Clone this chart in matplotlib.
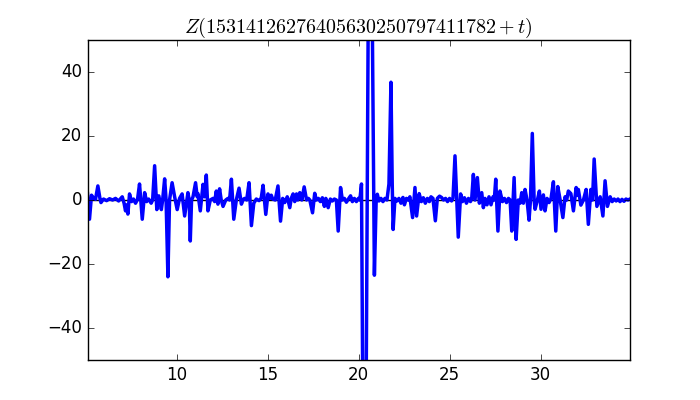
import matplotlib
matplotlib.use('Agg')
import matplotlib.pyplot as plt

# t values and Z(N + t)
t = [5.09, 5.20, 5.31, 5.42, 5.53, 5.66, 5.78, 5.83, 5.97, 6.14,
     6.30, 6.47, 6.63, 6.80, 7.00, 7.10, 7.18, 7.24, 7.31, 7.40,
     7.51, 7.62, 7.73, 7.84, 7.95, 8.10, 8.23, 8.34, 8.45, 8.59,
     8.67, 8.78, 8.90, 9.01, 9.15, 9.22, 9.33, 9.41, 9.51, 9.60,
     9.74, 9.88, 10.02, 10.15, 10.29, 10.43, 10.61, 10.68, 10.74, 10.81,
     10.89, 11.03, 11.12, 11.16, 11.29, 11.44, 11.53, 11.62, 11.71, 11.84,
     11.99, 12.08, 12.17, 12.26, 12.35, 12.44, 12.54, 12.69, 12.81, 12.90,
     13.00, 13.13, 13.27, 13.42, 13.55, 13.65, 13.73, 13.84, 13.97, 14.10,
     14.23, 14.37, 14.52, 14.64, 14.74, 14.89, 15.01, 15.11, 15.19, 15.27,
     15.41, 15.56, 15.70, 15.82, 15.93, 16.07, 16.21, 16.29, 16.39, 16.48,
     16.58, 16.65, 16.76, 16.87, 17.00, 17.13, 17.23, 17.31, 17.46, 17.58,
     17.67, 17.78, 17.89, 18.00, 18.11, 18.19, 18.32, 18.44, 18.55, 18.66,
     18.77, 18.87, 19.00, 19.10, 19.21, 19.32, 19.43, 19.55, 19.65, 19.76,
     19.87, 19.98, 20.06, 20.15, 20.32, 20.61, 20.86, 20.96, 21.02, 21.11,
     21.22, 21.33, 21.44, 21.55, 21.66, 21.77, 21.84, 21.89, 21.99, 22.10,
     22.21, 22.32, 22.43, 22.51, 22.62, 22.73, 22.81, 22.96, 23.09, 23.18,
     23.32, 23.44, 23.55, 23.66, 23.77, 23.88, 23.97, 24.08, 24.21, 24.32,
     24.44, 24.55, 24.66, 24.77, 24.88, 24.99, 25.10, 25.18, 25.29, 25.39,
     25.47, 25.60, 25.70, 25.81, 25.92, 26.03, 26.14, 26.21, 26.30, 26.39,
     26.52, 26.63, 26.76, 26.85, 26.94, 27.05, 27.16, 27.27, 27.38, 27.45,
     27.53, 27.65, 27.76, 27.90, 28.01, 28.12, 28.23, 28.32, 28.41, 28.54,
     28.65, 28.77, 28.87, 28.96, 29.05, 29.14, 29.25, 29.36, 29.44, 29.54,
     29.64, 29.69, 29.82, 29.93, 30.02, 30.15, 30.24, 30.35, 30.46, 30.57,
     30.70, 30.83, 30.94, 31.07, 31.22, 31.34, 31.43, 31.52, 31.66, 31.80,
     31.95, 32.01, 32.07, 32.21, 32.35, 32.50, 32.62, 32.76, 32.85, 32.94,
     33.09, 33.27, 33.42, 33.54, 33.67, 33.82, 33.93, 34.04, 34.15, 34.25,
     34.36, 34.47, 34.58, 34.69, 34.80, 34.91]

z = [2.0, -6.0, 1.5, 0.5, 0.2, 4.4, 0.3, -0.8, 0.3, -0.2,
     0.4, 0.0, 0.5, -0.3, 1.0, -1.0, -3.4, -1.5, -4.4, 1.9,
     -0.5, 0.3, -1.0, 0.2, 5.0, -6.0, 2.3, -0.5, 0.3, -1.0,
     0.0, 10.7, -3.0, 1.3, -3.0, 0.0, 6.6, 0.0, -24.0, 0.0,
     5.4, 1.0, -3.0, 0.5, 1.9, -5.0, 2.3, 0.0, -12.8, 0.0,
     1.0, 5.4, 1.0, 2.0, -3.4, 4.9, 1.0, 7.8, -3.4, 0.0,
     0.5, -0.5, 2.8, -1.3, 3.5, 0.0, -2.0, 0.0, 0.5, 0.0,
     6.5, -6.0, 0.0, 3.7, -1.3, 0.2, 0.5, 0.0, 5.4, -8.0,
     -1.0, 0.3, -0.2, 0.6, 4.6, -4.5, 1.9, 0.5, 1.5, 0.3,
     0.0, 4.4, -6.6, 0.5, -0.8, 1.0, -2.4, 0.5, 1.9, -0.5,
     1.9, 0.0, 2.3, 0.0, 4.1, 0.0, 0.5, 0.0, -4.0, 2.1,
     0.0, 0.5, -0.5, 0.7, -2.0, 0.5, -2.4, 0.3, -0.3, 0.3,
     0.0, -9.7, 3.9, 0.0, 0.5, -0.7, 0.3, 1.3, -0.5, 0.5,
     -0.5, 0.5, 0.0, 5.0, -150.0, 150.0, -23.5, 0.5, 1.8, -0.3,
     0.5, -0.5, 0.5, 0.0, 5.0, 36.8, 5.0, -9.2, 0.5, -0.3,
     0.5, -1.0, 0.8, -1.5, 0.5, 0.0, 1.0, -5.5, 3.9, -5.0,
     2.0, -0.5, 0.7, -1.0, 0.5, -0.5, 1.0, 0.5, -6.5, 0.5,
     1.2, 0.8, 0.0, 0.5, -0.5, 0.5, -0.3, 0.5, 13.8, 0.0,
     -11.6, 1.9, -0.5, 0.7, -1.0, 0.5, -0.5, 0.5, 8.0, 0.0,
     7.0, -1.0, 2.3, -2.4, 0.5, -1.5, 1.0, -1.5, 1.0, 0.0,
     6.5, -9.7, 2.8, -0.5, 0.5, -0.8, 0.5, 0.0, -9.7, 7.0,
     -12.3, 0.0, -1.0, 2.3, -1.0, 3.3, 0.0, -6.3, 0.0, 20.8,
     0.0, -2.9, 0.0, 2.8, -2.9, 1.6, -3.4, 0.5, -0.8, 0.5,
     5.7, -9.7, 4.2, 0.0, -5.5, 1.0, 0.0, 2.8, 2.0, -3.4,
     3.9, 1.5, 3.3, -1.6, 0.0, 3.3, -7.6, 3.3, 0.0, 12.8,
     -2.0, 1.0, -5.0, 6.0, -2.0, 1.0, -0.5, 0.3, -0.3, 0.3,
     -0.5, 0.2, -0.4, 0.3, 0.0, 0.3]

title = r'$Z(15314126276405630250797411782+t)$'

plt.style.use('classic')
fig = plt.figure(figsize=(7, 4), dpi=100, facecolor='white')
ax = fig.add_subplot(111)
fig.subplots_adjust(left=0.125, right=0.9, bottom=0.1, top=0.9)

ax.axhline(0, color='black', lw=1)
ax.plot(t, z, color='blue', lw=2.5)

ax.set_xlim(t[0], t[-1])
ax.set_ylim(-50, 50)
ax.set_xticks([10, 15, 20, 25, 30])
ax.set_yticks([-40, -20, 0, 20, 40])
ax.set_title(title)

fig.savefig('out.png', dpi=100, facecolor='white')
